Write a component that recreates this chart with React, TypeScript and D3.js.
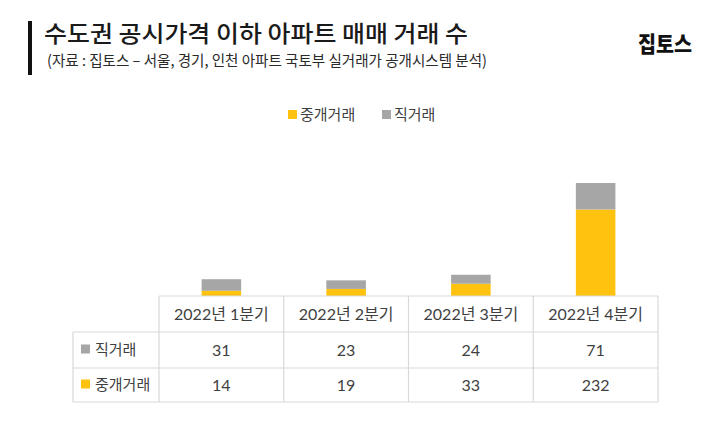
import React from "react";
import * as d3 from "d3";

// --- data ---
const quarters = ["2022년 1분기", "2022년 2분기", "2022년 3분기", "2022년 4분기"];
const brokered = [14, 19, 33, 232]; // 중개거래
const direct = [31, 23, 24, 71]; // 직거래
const seriesNames = ["중개거래", "직거래"];
const seriesColors = ["#FFC20E", "#A6A6A6"];

const W = 720;
const H = 432;
const KR = "'Noto Sans CJK KR', 'Noto Sans', sans-serif";
const NUM = "Lato, 'Noto Sans CJK KR', sans-serif";
const TEXT = "#3f3f3f";
const GRID = "#d9d9d9";

export default function App() {
  // table geometry
  const tableLeft = 73;
  const colLeft = 159;
  const colRight = 658;
  const rowTops = [296, 332, 368, 402];

  const x = d3.scaleBand<string>().domain(quarters).range([colLeft, colRight]).paddingInner(0);
  const y = d3.scaleLinear().domain([0, 350]).range([rowTops[0], 165.5]);

  const barW = x.bandwidth() * 0.317;

  const rows = quarters.map((q, i) => ({ q, brokered: brokered[i], direct: direct[i] }));
  const stack = d3.stack<any>().keys(["brokered", "direct"])(rows);

  const tableRows = [
    { label: "직거래", color: seriesColors[1], values: direct },
    { label: "중개거래", color: seriesColors[0], values: brokered },
  ];

  return (
    <div style={{ position: "fixed", left: 0, top: 0, width: W, height: H, background: "#fff" }}>
      <svg width={W} height={H} viewBox={`0 0 ${W} ${H}`}>
        <rect width={W} height={H} fill="#fff" />

        {/* title block */}
        <rect x={28} y={21} width={4} height={54} fill="#111" />
        <text x={44} y={42} fontFamily={KR} fontSize={23} fontWeight={500} fill="#1a1a1a" textLength={424} lengthAdjust="spacingAndGlyphs">
          수도권 공시가격 이하 아파트 매매 거래 수
        </text>
        <text x={47} y={66} fontFamily={KR} fontSize={15} fill="#2a2a2a" textLength={440} lengthAdjust="spacingAndGlyphs">
          (자료 : 집토스 – 서울, 경기, 인천 아파트 국토부 실거래가 공개시스템 분석)
        </text>
        <text x={638} y={52} fontFamily={KR} fontSize={22} fontWeight={900} fill="#111" textLength={54} lengthAdjust="spacingAndGlyphs">
          집토스
        </text>

        {/* legend */}
        <g fontFamily={KR} fontSize={15} fill={TEXT}>
          <rect x={288} y={110} width={9} height={9} fill={seriesColors[0]} />
          <text x={300} y={119.5}>{seriesNames[0]}</text>
          <rect x={382} y={110} width={9} height={9} fill={seriesColors[1]} />
          <text x={394} y={119.5}>{seriesNames[1]}</text>
        </g>

        {/* stacked bars */}
        {stack.map((layer, li) => (
          <g key={li} fill={seriesColors[li]}>
            {layer.map((d, i) => (
              <rect
                key={i}
                x={(x(quarters[i]) as number) + (x.bandwidth() - barW) / 2}
                y={y(d[1])}
                width={barW}
                height={y(d[0]) - y(d[1])}
              />
            ))}
          </g>
        ))}

        {/* data table */}
        <g fill="none" stroke={GRID} strokeWidth={1.2}>
          <line x1={colLeft} x2={colRight} y1={rowTops[0]} y2={rowTops[0]} />
          {rowTops.slice(1).map((ry, i) => (
            <line key={i} x1={tableLeft} x2={colRight} y1={ry} y2={ry} />
          ))}
          <line x1={tableLeft} x2={tableLeft} y1={rowTops[1]} y2={rowTops[3]} />
          {quarters.map((q) => (
            <line key={q} x1={x(q)} x2={x(q)} y1={rowTops[0]} y2={rowTops[3]} />
          ))}
          <line x1={colRight} x2={colRight} y1={rowTops[0]} y2={rowTops[3]} />
        </g>

        <g fontFamily={NUM} fontSize={16} fill={TEXT} textAnchor="middle">
          {quarters.map((q) => (
            <text key={q} x={(x(q) as number) + x.bandwidth() / 2} y={(rowTops[0] + rowTops[1]) / 2} dy="0.36em">
              {q}
            </text>
          ))}
          {tableRows.map((r, ri) =>
            r.values.map((v, i) => (
              <text
                key={`${ri}-${i}`}
                x={(x(quarters[i]) as number) + x.bandwidth() / 2}
                y={(rowTops[ri + 1] + rowTops[ri + 2]) / 2}
                dy="0.36em"
              >
                {v}
              </text>
            ))
          )}
        </g>

        {tableRows.map((r, ri) => {
          const cy = (rowTops[ri + 1] + rowTops[ri + 2]) / 2;
          return (
            <g key={r.label}>
              <rect x={81} y={cy - 5.5} width={9} height={9} fill={r.color} />
              <text x={95} y={cy} dy="0.36em" fontFamily={KR} fontSize={15} fill={TEXT}>
                {r.label}
              </text>
            </g>
          );
        })}
      </svg>
    </div>
  );
}
